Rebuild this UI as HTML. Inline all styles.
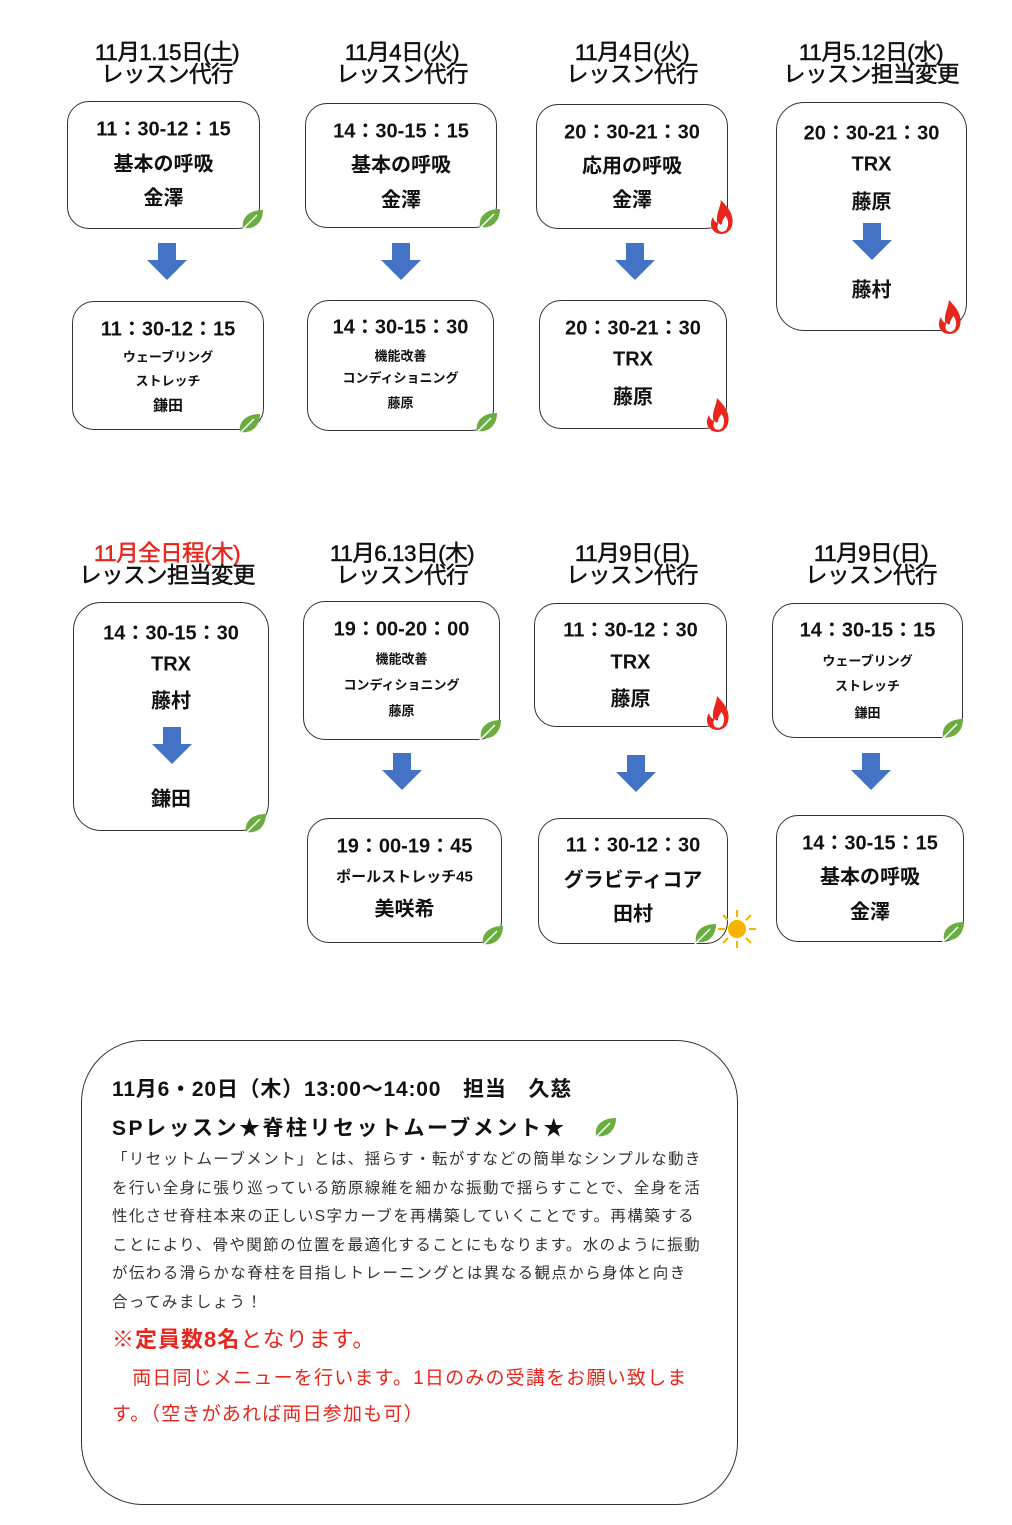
<!DOCTYPE html>
<html><head><meta charset="utf-8"><style>
body{margin:0;width:1012px;height:1525px;background:#fff;position:relative;overflow:hidden;font-family:"Liberation Sans","Noto Sans CJK JP",sans-serif;color:#111}
.a{position:absolute}
.h{position:absolute;width:260px;text-align:center;font-size:22.5px;line-height:22px;font-weight:normal;letter-spacing:-0.5px;-webkit-text-stroke:0.5px #111}
.b{position:absolute;border:1.3px solid #333;border-radius:22px;background:#fff;box-sizing:border-box}
.t{position:absolute;left:0;right:0;text-align:center;font-weight:bold;transform:translateY(-50%);white-space:nowrap}
.L{font-size:20px}.S{font-size:13px}.M{font-size:16px}
.ar{position:absolute;width:40px;height:37px}
.ic{position:absolute;width:26px;height:26px}
.nw{white-space:nowrap}
</style></head><body>
<svg width="0" height="0" style="position:absolute"><defs>
<symbol id="arr" viewBox="0 0 40 37"><path d="M11 0H29V17H40L20 37L0 17H11Z" fill="#4472C4"/></symbol>
<symbol id="leaf" viewBox="0 0 26 26"><path d="M4 22C2 12 10 4 24 4C24 16 16 24 4 22Z" fill="#6aae3f"/><path d="M2 25L18 9" stroke="#fff" stroke-width="1.5"/></symbol>
<symbol id="fire" viewBox="0 0 26 30"><path d="M13 30C4 30 1 22 5 15C6 19 8 20 9 20C7 13 12 6 12 0C18 6 24 13 22 22C21 27 17 30 13 30Z" fill="#e8261c"/><path d="M13 28C9 28 8 24 10 20C11 22 12 22 13 21C13 18 15 16 16 14C19 18 19 22 17 26C16 27 15 28 13 28Z" fill="#fff"/></symbol>
</defs></svg>

<div class="h" style="left:37px;top:42px">11月1.15日(土)<br>レッスン代行</div>
<div class="h" style="left:272px;top:42px">11月4日(火)<br>レッスン代行</div>
<div class="h" style="left:502px;top:42px">11月4日(火)<br>レッスン代行</div>
<div class="h" style="left:741px;top:42px">11月5.12日(水)<br>レッスン担当変更</div>

<div class="b" style="left:67px;top:101px;width:193px;height:128px"><div class="t L" style="top:25px">11：30-12：15</div><div class="t L" style="top:60px">基本の呼吸</div><div class="t L" style="top:94px">金澤</div></div>
<div class="b" style="left:305px;top:103px;width:192px;height:125px"><div class="t L" style="top:25px">14：30-15：15</div><div class="t L" style="top:59px">基本の呼吸</div><div class="t L" style="top:94px">金澤</div></div>
<div class="b" style="left:536px;top:104px;width:192px;height:125px"><div class="t L" style="top:25px">20：30-21：30</div><div class="t L" style="top:59px">応用の呼吸</div><div class="t L" style="top:93px">金澤</div></div>
<div class="b" style="left:776px;top:102px;width:191px;height:229px;border-radius:28px"><div class="t L" style="top:28px">20：30-21：30</div><div class="t L" style="top:62px">TRX</div><div class="t L" style="top:97px">藤原</div><div class="t L" style="top:185px">藤村</div></div>
<svg class="ar" style="left:852px;top:223px"><use href="#arr"/></svg>

<svg class="ar" style="left:147px;top:243px"><use href="#arr"/></svg>
<svg class="ar" style="left:381px;top:243px"><use href="#arr"/></svg>
<svg class="ar" style="left:615px;top:243px"><use href="#arr"/></svg>

<div class="b" style="left:72px;top:301px;width:192px;height:129px"><div class="t L" style="top:25px">11：30-12：15</div><div class="t S" style="top:54px">ウェーブリング</div><div class="t S" style="top:78px">ストレッチ</div><div class="t M" style="top:103px;font-size:15px">鎌田</div></div>
<div class="b" style="left:307px;top:300px;width:187px;height:131px"><div class="t L" style="top:24px">14：30-15：30</div><div class="t S" style="top:54px">機能改善</div><div class="t S" style="top:76px">コンディショニング</div><div class="t S" style="top:101px">藤原</div></div>
<div class="b" style="left:539px;top:300px;width:188px;height:129px"><div class="t L" style="top:25px">20：30-21：30</div><div class="t L" style="top:59px">TRX</div><div class="t L" style="top:94px">藤原</div></div>

<svg class="ic" style="left:239px;top:206px"><use href="#leaf"/></svg>
<svg class="ic" style="left:476px;top:205px"><use href="#leaf"/></svg>
<svg class="ic" style="left:707px;top:200px;width:30px;height:34px" viewBox="0 0 26 30"><use href="#fire"/></svg>
<svg class="ic" style="left:935px;top:300px;width:30px;height:34px" viewBox="0 0 26 30"><use href="#fire"/></svg>
<svg class="ic" style="left:236px;top:410px"><use href="#leaf"/></svg>
<svg class="ic" style="left:473px;top:409px"><use href="#leaf"/></svg>
<svg class="ic" style="left:703px;top:398px;width:30px;height:34px" viewBox="0 0 26 30"><use href="#fire"/></svg>

<div class="h" style="left:37px;top:543px"><span style="color:#e8261c;-webkit-text-stroke-color:#e8261c">11月全日程(木)</span><br>レッスン担当変更</div>
<div class="h" style="left:272px;top:543px">11月6.13日(木)<br>レッスン代行</div>
<div class="h" style="left:502px;top:543px">11月9日(日)<br>レッスン代行</div>
<div class="h" style="left:741px;top:543px">11月9日(日)<br>レッスン代行</div>

<div class="b" style="left:73px;top:602px;width:196px;height:229px;border-radius:28px"><div class="t L" style="top:28px">14：30-15：30</div><div class="t L" style="top:62px">TRX</div><div class="t L" style="top:96px">藤村</div><div class="t L" style="top:194px">鎌田</div></div>
<svg class="ar" style="left:152px;top:727px"><use href="#arr"/></svg>
<div class="b" style="left:303px;top:601px;width:197px;height:139px"><div class="t L" style="top:25px">19：00-20：00</div><div class="t S" style="top:56px">機能改善</div><div class="t S" style="top:82px">コンディショニング</div><div class="t S" style="top:108px">藤原</div></div>
<div class="b" style="left:534px;top:603px;width:193px;height:124px"><div class="t L" style="top:24px">11：30-12：30</div><div class="t L" style="top:59px">TRX</div><div class="t L" style="top:93px">藤原</div></div>
<div class="b" style="left:772px;top:603px;width:191px;height:135px"><div class="t L" style="top:24px">14：30-15：15</div><div class="t S" style="top:56px">ウェーブリング</div><div class="t S" style="top:81px">ストレッチ</div><div class="t S" style="top:108px">鎌田</div></div>

<svg class="ar" style="left:382px;top:753px"><use href="#arr"/></svg>
<svg class="ar" style="left:616px;top:755px"><use href="#arr"/></svg>
<svg class="ar" style="left:851px;top:753px"><use href="#arr"/></svg>

<div class="b" style="left:307px;top:818px;width:195px;height:125px"><div class="t L" style="top:25px">19：00-19：45</div><div class="t M" style="top:57px;font-size:15px">ポールストレッチ45</div><div class="t L" style="top:88px">美咲希</div></div>
<div class="b" style="left:538px;top:818px;width:190px;height:126px"><div class="t L" style="top:24px">11：30-12：30</div><div class="t L" style="top:59px">グラビティコア</div><div class="t L" style="top:93px">田村</div></div>
<div class="b" style="left:776px;top:815px;width:188px;height:127px"><div class="t L" style="top:25px">14：30-15：15</div><div class="t L" style="top:59px">基本の呼吸</div><div class="t L" style="top:94px">金澤</div></div>

<svg class="ic" style="left:242px;top:810px"><use href="#leaf"/></svg>
<svg class="ic" style="left:477px;top:716px"><use href="#leaf"/></svg>
<svg class="ic" style="left:703px;top:696px;width:30px;height:34px" viewBox="0 0 26 30"><use href="#fire"/></svg>
<svg class="ic" style="left:939px;top:715px"><use href="#leaf"/></svg>
<svg class="ic" style="left:479px;top:922px"><use href="#leaf"/></svg>
<svg class="ic" style="left:692px;top:920px"><use href="#leaf"/></svg>
<svg class="a" style="left:716px;top:908px" width="42" height="42" viewBox="0 0 42 42"><g stroke="#f4b400" stroke-width="2"><path d="M21 2V9M21 33V40M2 21H9M33 21H40M7 7L12 12M30 30L35 35M35 7L30 12M12 30L7 35"/></g><circle cx="21" cy="21" r="9" fill="#f4b400"/></svg>
<svg class="ic" style="left:940px;top:918px"><use href="#leaf"/></svg>

<div class="b" style="left:81px;top:1040px;width:657px;height:465px;border-radius:62px"></div>
<div class="a nw" style="left:112px;top:1073px;font-size:21px;font-weight:bold;letter-spacing:0.8px">11月6・20日（木）13:00〜14:00　担当　久慈</div>
<div class="a nw" style="left:112px;top:1112px;font-size:21px;font-weight:bold;letter-spacing:2.5px">SPレッスン★脊柱リセットムーブメント★</div>
<svg class="ic" style="left:592px;top:1114px"><use href="#leaf"/></svg>
<div class="a nw" style="left:112px;top:1146px;font-size:15.5px;line-height:28.5px;color:#333;letter-spacing:1.4px">「リセットムーブメント」とは、揺らす・転がすなどの簡単なシンプルな動き<br>を行い全身に張り巡っている筋原線維を細かな振動で揺らすことで、全身を活<br>性化させ脊柱本来の正しいS字カーブを再構築していくことです。再構築する<br>ことにより、骨や関節の位置を最適化することにもなります。水のように振動<br>が伝わる滑らかな脊柱を目指しトレーニングとは異なる観点から身体と向き<br>合ってみましょう！</div>
<div class="a nw" style="left:112px;top:1322px;font-size:22px;color:#e8261c;letter-spacing:1px"><b>※定員数8名</b>となります。</div>
<div class="a nw" style="left:112px;top:1361px;font-size:19px;line-height:36px;color:#e8261c;letter-spacing:1.2px">　両日同じメニューを行います。1日のみの受講をお願い致しま<br>す。（空きがあれば両日参加も可）</div>
</body></html>
